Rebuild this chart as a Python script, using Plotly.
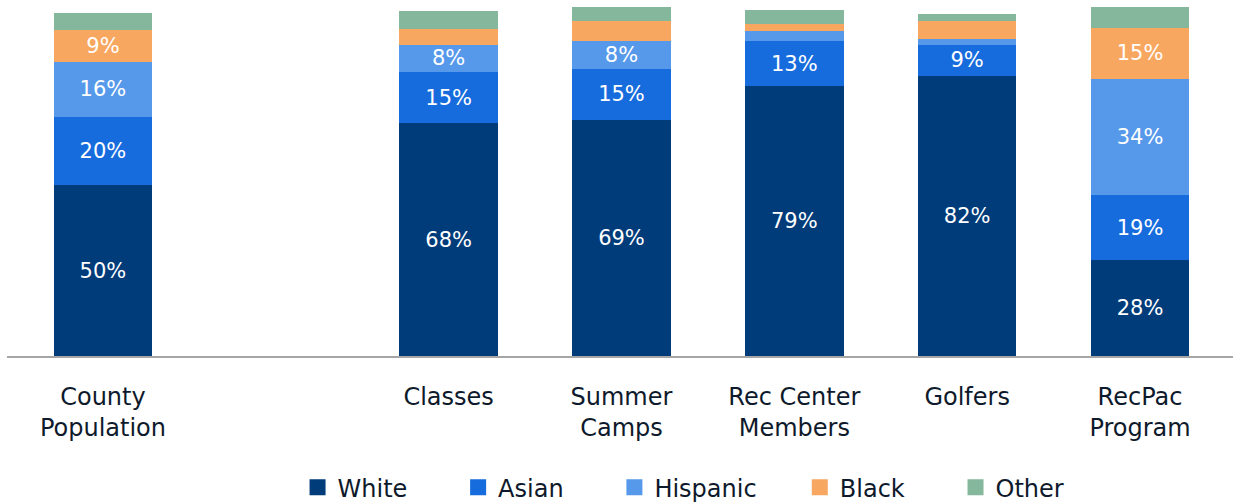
import plotly.graph_objects as go

categories = ["County<br>Population", " ", "Classes", "Summer<br>Camps",
              "Rec Center<br>Members", "Golfers", "RecPac<br>Program"]
white = [50, None, 68, 69, 79, 82, 28]
asian = [20, None, 15, 15, 13, 9, 19]
hispanic = [16, None, 8, 8, 3, 1.8, 34]
black = [9.3, None, 4.7, 6.1, 2, 5.3, 15]
other = [5, None, 5.3, 4.1, 4.1, 2, 6]

series = [
    ("White", white, "#003B7A"),
    ("Asian", asian, "#176CDD"),
    ("Hispanic", hispanic, "#5699EA"),
    ("Black", black, "#F8A760"),
    ("Other", other, "#85B79C"),
]
legend_pad = [6, 6, 5, 6, 0]

def labels(vals):
    out = []
    for v in vals:
        if v is None or v < 7.5:
            out.append("")
        else:
            out.append(f"{round(v)}%")
    return out

FONT = "DejaVu Sans"
TXT = "#0E1A2B"

fig = go.Figure()
for name, vals, color in series:
    fig.add_trace(go.Bar(
        name=name, x=categories, y=vals, marker=dict(color=color, line=dict(width=0)),
        text=labels(vals), textposition="inside", insidetextanchor="middle",
        textangle=0, textfont=dict(color="white", size=21, family=FONT),
        hoverinfo="skip", showlegend=False,
    ))

# legend entries (square swatches)
for (name, vals, color), pad in zip(series, legend_pad):
    fig.add_trace(go.Scatter(
        name=name + "\u00a0" * pad, x=[None], y=[None], mode="markers",
        marker=dict(symbol="square", size=16, color=color),
        showlegend=True, hoverinfo="skip",
    ))

fig.update_layout(
    barmode="stack", bargap=0.43,
    width=1233, height=504,
    margin=dict(l=7, r=0, t=0, b=148, autoexpand=False),
    plot_bgcolor="white", paper_bgcolor="white",
    font=dict(family=FONT, size=24, color=TXT),
    uniformtext=dict(minsize=21, mode="show"),
    showlegend=True,
    legend=dict(orientation="h", x=0.237, xanchor="left", y=-0.37, yanchor="middle",
                font=dict(size=24, color=TXT, family=FONT), traceorder="normal",
                itemsizing="trace", bgcolor="rgba(0,0,0,0)"),
)
fig.update_xaxes(type="category", categoryorder="array", categoryarray=categories,
                 range=[-0.555, 6.538], showline=True, linecolor="#A6A6A6", linewidth=2,
                 ticks="", ticklabelstandoff=18, tickfont=dict(size=24, family=FONT, color=TXT),
                 showgrid=False, zeroline=False, automargin=False)
fig.update_yaxes(range=[0, 104.1], visible=False, showgrid=False, zeroline=False,
                 automargin=False)

fig.write_html("out.html", config={"displayModeBar": False},
               post_script="document.body.style.margin='0px';")
